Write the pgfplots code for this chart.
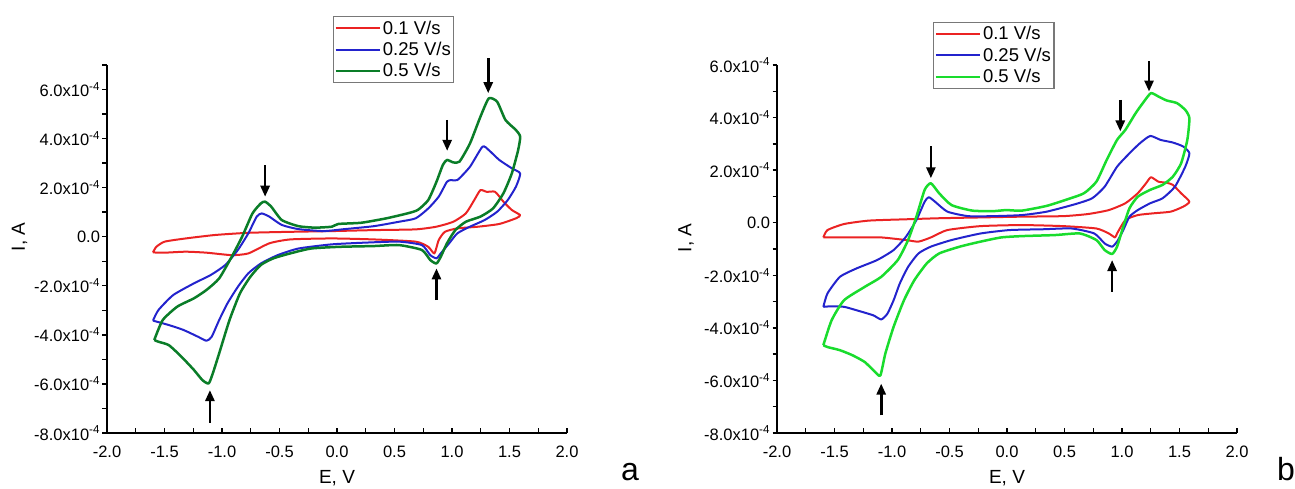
\documentclass[border=0pt]{standalone}
\usepackage{pgfplots}
\pgfplotsset{compat=1.18}
\usepackage{fontspec}
\setmainfont{Liberation Sans}
\usetikzlibrary{arrows.meta}
\definecolor{cvred}{RGB}{235,35,35}
\definecolor{cvblue}{RGB}{35,35,205}
\definecolor{cvdgreen}{RGB}{10,125,40}
\definecolor{cvlgreen}{RGB}{25,220,45}
\definecolor{legframe}{RGB}{120,120,120}

\tikzset{arr/.style={-{Triangle[length=11pt,width=9pt]}, line width=2.6pt, black}}

\pgfplotsset{
  cvaxis/.style={
    scale only axis, width=460pt, height=368pt,
    axis x line*=bottom, axis y line*=left,
    axis line style={line width=1.7pt},
    xmin=-2, xmax=2, ymin=-8,
    xtick={-2,-1.5,-1,-0.5,0,0.5,1,1.5,2},
    xticklabels={-2.0,-1.5,-1.0,-0.5,0.0,0.5,1.0,1.5,2.0},
    minor xtick={-1.75,-1.25,-0.75,-0.25,0.25,0.75,1.25,1.75},
    ytick={-8,-6,-4,-2,0,2,4,6},
    yticklabels={-8.0x10\textsuperscript{-4},-6.0x10\textsuperscript{-4},-4.0x10\textsuperscript{-4},-2.0x10\textsuperscript{-4},0.0,2.0x10\textsuperscript{-4},4.0x10\textsuperscript{-4},6.0x10\textsuperscript{-4}},
    minor ytick={-7,-5,-3,-1,1,3,5,7},
    tick align=outside,
    major tick length=4.5pt, minor tick length=4.5pt,
    tick style={line width=1.4pt, black},
    x tick style={yshift=4.5pt},
    ticklabel style={font=\fontsize{16.5}{18}\selectfont},
    xticklabel style={yshift=-5pt},
    yticklabel style={xshift=1pt},
    label style={font=\fontsize{19}{21}\selectfont},
    xlabel={E, V}, ylabel={I, A},
    xlabel style={at={(axis description cs:0.5,-0.122)}, anchor=center},
    clip=false,
    legend style={draw=legframe, line width=1.2pt, font=\fontsize{18.5}{21}\selectfont,
      inner xsep=1pt, inner ysep=2pt, row sep=2.5pt, cells={anchor=west}},
    legend image code/.code={\draw[##1] (0pt,0pt) -- (44pt,0pt);},
    every axis plot/.append style={line join=round, smooth, tension=0.35},
  },
}

\begin{document}
\begin{tikzpicture}
\useasboundingbox (0,0) rectangle (1295pt,489pt);

% ---------------- panel a ----------------
\begin{axis}[cvaxis, at={(107pt,56pt)}, anchor=south west, ymax=7,
  ylabel style={at={(axis description cs:-0.19,0.533)}, anchor=center},
  legend style={at={(axis description cs:0.491,1.133)}, anchor=north west}]
\addplot[cvred, line width=2pt] coordinates {
(-1.6,-0.64) (-1.571,-0.41) (-1.498,-0.20) (-1.316,-0.07) (-1.062,0.07) (-0.771,0.16)
(-0.407,0.20) (-0.044,0.23) (0.32,0.27) (0.684,0.30) (0.865,0.41) (1.011,0.61)
(1.12,0.95) (1.193,1.49) (1.247,1.90) (1.302,1.83) (1.375,1.83) (1.447,1.43)
(1.52,1.09) (1.593,0.88) (1.556,0.75) (1.411,0.52) (1.229,0.41) (1.047,0.34)
(0.938,0.20) (0.884,-0.14) (0.847,-0.68) (0.793,-0.41) (0.684,-0.20) (0.32,-0.11)
(-0.044,-0.07) (-0.407,-0.11) (-0.589,-0.27) (-0.771,-0.68) (-0.916,-0.75)
(-1.135,-0.65) (-1.316,-0.61) (-1.498,-0.65) (-1.6,-0.64)};
\addlegendentry{0.1 V/s}
\addplot[cvblue, line width=2pt] coordinates {
(-1.6,-3.42) (-1.553,-2.99) (-1.425,-2.38) (-1.244,-1.90) (-1.098,-1.56) (-0.971,-1.15)
(-0.862,-0.54) (-0.771,0.14) (-0.698,0.82) (-0.655,0.95) (-0.589,0.82) (-0.48,0.48)
(-0.335,0.31) (-0.116,0.23) (0.065,0.31) (0.32,0.43) (0.538,0.61) (0.684,0.75)
(0.793,1.15) (0.884,1.63) (0.956,2.24) (0.993,2.31) (1.047,2.31) (1.156,2.85)
(1.265,3.67) (1.32,3.53) (1.411,3.13) (1.52,2.79) (1.593,2.58)
(1.556,2.04) (1.484,1.49) (1.393,1.02) (1.284,0.68) (1.156,0.41) (1.047,0.14)
(0.975,-0.27) (0.902,-0.68) (0.865,-0.88) (0.811,-0.75) (0.738,-0.34) (0.538,-0.20)
(0.247,-0.24) (-0.044,-0.31) (-0.335,-0.48) (-0.516,-0.75) (-0.662,-1.09)
(-0.771,-1.49) (-0.862,-2.04) (-0.953,-2.72) (-1.025,-3.40) (-1.09,-4.08)
(-1.135,-4.24) (-1.207,-4.08) (-1.335,-3.80) (-1.462,-3.60) (-1.6,-3.42)};
\addlegendentry{0.25 V/s}
\addplot[cvdgreen, line width=2.5pt] coordinates {
(-1.589,-4.21) (-1.516,-3.40) (-1.389,-2.85) (-1.244,-2.51) (-1.135,-2.17) (-1.025,-1.70)
(-0.916,-0.82) (-0.825,0) (-0.735,0.95) (-0.662,1.36) (-0.625,1.43) (-0.571,1.22)
(-0.48,0.68) (-0.335,0.43) (-0.19,0.37) (-0.044,0.41) (0.011,0.52) (0.211,0.57)
(0.429,0.75) (0.611,0.95) (0.702,1.09) (0.793,1.49) (0.865,2.24) (0.92,2.92)
(0.956,3.13) (1.011,3.03) (1.065,3.06) (1.156,3.80) (1.247,4.89) (1.32,5.64)
(1.393,5.50) (1.465,4.76) (1.556,4.35) (1.593,4.08)
(1.575,3.53) (1.52,2.58) (1.447,1.77) (1.356,1.15) (1.247,0.82) (1.12,0.61)
(1.029,0.27) (0.956,-0.27) (0.902,-0.82) (0.865,-1.09) (0.811,-0.95) (0.738,-0.54)
(0.538,-0.34) (0.32,-0.38) (0.029,-0.41) (-0.225,-0.48) (-0.407,-0.68) (-0.553,-0.88)
(-0.662,-1.15) (-0.753,-1.63) (-0.844,-2.31) (-0.935,-3.40) (-1.025,-4.76)
(-1.08,-5.57) (-1.116,-5.98) (-1.171,-5.84) (-1.244,-5.43) (-1.353,-4.89)
(-1.462,-4.42) (-1.553,-4.28) (-1.589,-4.21)};
\addlegendentry{0.5 V/s}
\draw[arr] (axis cs:-0.625,2.92) -- (axis cs:-0.625,1.63);
\draw[arr] (axis cs:0.958,4.76) -- (axis cs:0.958,3.50);
\draw[arr] (axis cs:1.315,7.27) -- (axis cs:1.315,5.85);
\draw[arr] (axis cs:0.865,-2.58) -- (axis cs:0.865,-1.29);
\draw[arr] (axis cs:-1.105,-7.58) -- (axis cs:-1.105,-6.25);
\end{axis}

% ---------------- panel b ----------------
\begin{axis}[cvaxis, at={(777pt,56pt)}, anchor=south west, ymax=6,
  ylabel style={at={(axis description cs:-0.198,0.53)}, anchor=center},
  legend style={at={(axis description cs:0.339,1.117)}, anchor=north west}]
\addplot[cvred, line width=2pt] coordinates {
(-1.597,-0.56) (-1.561,-0.28) (-1.417,-0.05) (-1.201,0.08) (-0.878,0.13) (-0.59,0.17)
(-0.23,0.20) (0.129,0.23) (0.489,0.25) (0.705,0.33) (0.885,0.48) (1.029,0.74)
(1.137,1.12) (1.209,1.50) (1.252,1.73) (1.317,1.56) (1.388,1.52) (1.442,1.44)
(1.514,1.12) (1.586,0.80) (1.532,0.61) (1.424,0.42) (1.28,0.36) (1.137,0.29)
(1.029,0.10) (0.957,-0.41) (0.939,-0.56) (0.885,-0.41) (0.777,-0.22) (0.489,-0.13)
(0.129,-0.09) (-0.23,-0.13) (-0.518,-0.28) (-0.662,-0.56) (-0.77,-0.72)
(-0.878,-0.66) (-1.094,-0.56) (-1.309,-0.56) (-1.597,-0.56)};
\addlegendentry{0.1 V/s}
\addplot[cvblue, line width=2pt] coordinates {
(-1.597,-3.20) (-1.561,-2.69) (-1.453,-2.06) (-1.309,-1.74) (-1.129,-1.42) (-0.986,-1.04)
(-0.878,-0.53) (-0.788,0.10) (-0.716,0.80) (-0.68,0.97) (-0.626,0.80) (-0.518,0.42)
(-0.338,0.25) (-0.122,0.25) (0.129,0.29) (0.345,0.42) (0.597,0.71) (0.741,0.93)
(0.849,1.37) (0.957,2.13) (1.065,2.64) (1.155,3.02) (1.245,3.30) (1.335,3.15)
(1.442,3.05) (1.532,2.90) (1.586,2.64)
(1.55,2.13) (1.46,1.37) (1.353,0.93) (1.245,0.74) (1.137,0.48) (1.065,0.23)
(1.011,-0.28) (0.957,-0.72) (0.914,-0.91) (0.849,-0.79) (0.759,-0.41) (0.561,-0.22)
(0.309,-0.25) (0.022,-0.28) (-0.23,-0.41) (-0.482,-0.66) (-0.662,-0.91) (-0.77,-1.17)
(-0.86,-1.68) (-0.932,-2.31) (-0.986,-2.95) (-1.04,-3.46) (-1.094,-3.68)
(-1.165,-3.52) (-1.309,-3.33) (-1.417,-3.20) (-1.525,-3.18) (-1.597,-3.20)};
\addlegendentry{0.25 V/s}
\addplot[cvlgreen, line width=2.5pt] coordinates {
(-1.597,-4.66) (-1.525,-3.71) (-1.417,-2.95) (-1.237,-2.44) (-1.094,-2.06) (-0.95,-1.42)
(-0.86,-0.66) (-0.788,0.23) (-0.716,1.25) (-0.662,1.50) (-0.59,1.12) (-0.482,0.67)
(-0.302,0.46) (-0.122,0.44) (-0.007,0.48) (0.129,0.46) (0.345,0.64) (0.525,0.89)
(0.669,1.12) (0.777,1.56) (0.867,2.39) (0.957,3.15) (1.029,3.53) (1.119,4.17)
(1.191,4.61) (1.252,4.93) (1.317,4.80) (1.388,4.65) (1.478,4.55) (1.55,4.29)
(1.586,3.98)
(1.568,3.15) (1.514,2.26) (1.442,1.75) (1.353,1.44) (1.245,1.25) (1.137,0.99)
(1.065,0.55) (1.011,-0.15) (0.957,-0.91) (0.914,-1.19) (0.849,-1.04) (0.777,-0.66)
(0.633,-0.41) (0.417,-0.47) (0.129,-0.51) (-0.05,-0.56) (-0.23,-0.72) (-0.41,-0.91)
(-0.59,-1.17) (-0.698,-1.55) (-0.806,-2.19) (-0.896,-2.95) (-0.986,-3.96)
(-1.058,-4.98) (-1.101,-5.81) (-1.147,-5.68) (-1.237,-5.30) (-1.345,-5.04)
(-1.453,-4.85) (-1.561,-4.73) (-1.597,-4.66)};
\addlegendentry{0.5 V/s}
\draw[arr] (axis cs:-0.662,2.90) -- (axis cs:-0.662,1.69);
\draw[arr] (axis cs:0.985,4.67) -- (axis cs:0.985,3.47);
\draw[arr] (axis cs:1.235,6.14) -- (axis cs:1.235,4.99);
\draw[arr] (axis cs:0.914,-2.63) -- (axis cs:0.914,-1.42);
\draw[arr] (axis cs:-1.094,-7.33) -- (axis cs:-1.094,-6.12);
\end{axis}

\node[anchor=base, font=\fontsize{32}{34}\selectfont] at (630pt,8pt) {a};
\node[anchor=base, font=\fontsize{32}{34}\selectfont] at (1286pt,8pt) {b};
\end{tikzpicture}
\end{document}
